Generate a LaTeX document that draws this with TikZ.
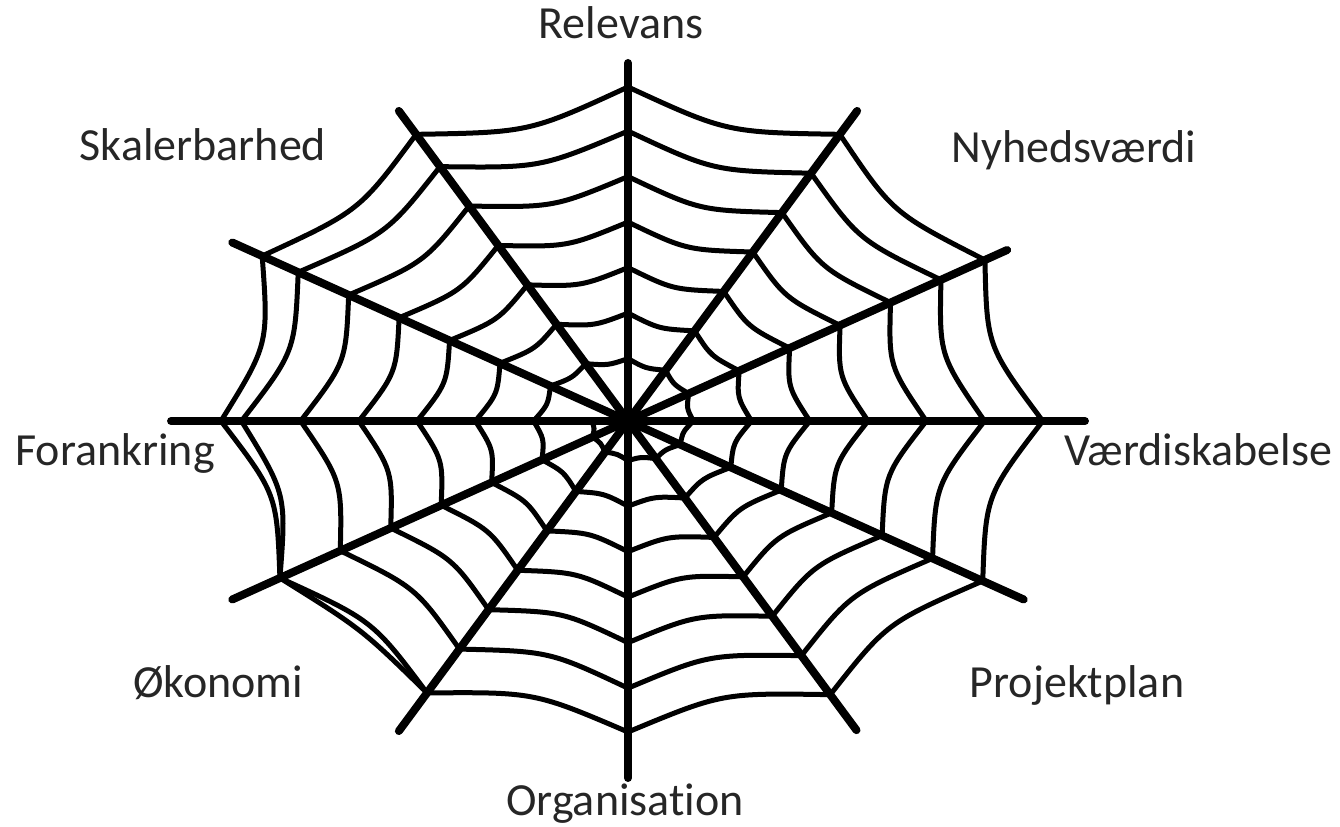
\documentclass[tikz,border=0pt]{standalone}
\usepackage{fontspec}
\setmainfont{Carlito}[Ligatures={NoCommon}]
\newcommand\webr[2]{%
  \pgfmathtruncatemacro\wtmp{#1}%
  \ifnum\wtmp<2340 \pgfmathsetmacro#2{5.5+0.1264*#1}%
  \else \pgfmathtruncatemacro\widx{(#1-2340)/30}%
    \pgfmathsetmacro#2{{302,314,314,311,316,320,324,322,331,334,331,330,318,314}[\widx]}\fi}
\newcommand\webseg[3]{% T start, T end, half-factor
  \webr{#1}{\ra}\webr{#2}{\rb}%
  \pgfmathsetmacro\xa{628+1.28*\ra*cos(#1)}%
  \pgfmathsetmacro\ya{405+\ra*sin(#1)}%
  \pgfmathsetmacro\xb{628+1.28*\rb*cos(#2)}%
  \pgfmathsetmacro\yb{405+\rb*sin(#2)}%
  \pgfmathsetmacro\xc{628+1.28*#3*(\ra*cos(#1)+\rb*cos(#2))}%
  \pgfmathsetmacro\yc{405+#3*(\ra*sin(#1)+\rb*sin(#2))}%
  \draw[thread] (\xa,\ya) .. controls (\xc,\yc) .. (\xb,\yb);}
\begin{document}
\begin{tikzpicture}[x=0.5pt,y=0.5pt,
  spoke/.style={line width=4pt,line cap=round},
  thread/.style={line width=2.5pt},
  lbl/.style={font=\fontsize{23}{27}\selectfont, text=black!85, anchor=base, inner sep=0pt}]
\useasboundingbox (0,0) rectangle (1340,826);
\fill[white] (0,0) rectangle (1340,826);
\coordinate (c) at (628,405);
% spokes
\foreach \a/\L in {0/357,30/342,60/358,90/358,120/358,150/357,180/357,210/357,240/358,270/357,300/357,330/357} {
  \pgfmathsetmacro\ex{628+1.28*\L*cos(\a)}
  \pgfmathsetmacro\ey{405+\L*sin(\a)}
  \coordinate (s\a) at (\ex,\ey);
  \draw[spoke] (c) -- (s\a);
}
% spiral threads
\foreach \T in {180,210,...,2700} {
  \pgfmathtruncatemacro\Tb{\T+30}
  \webseg{\T}{\Tb}{0.465}
}
% doubled outer thread
\webseg{2370}{2400}{0.485}
% labels
\node[lbl] (relevans) at (621,787) {Relevans};
\node[lbl] (skal) at (203,665) {Skalerbarhed};
\node[lbl] (nyh) at (1074,663) {Nyhedsværdi};
\node[lbl] (forank) at (115,360) {Forankring};
\node[lbl] (vaerdi) at (1198,360) {Værdiskabelse};
\node[lbl] (oko) at (218,129) {Økonomi};
\node[lbl] (proj) at (1077,129) {Projektplan};
\node[lbl] (org) at (625,11) {Organisation};
\end{tikzpicture}
\end{document}
